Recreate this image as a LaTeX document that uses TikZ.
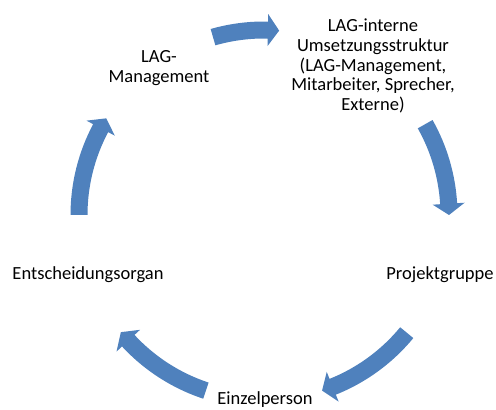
\documentclass[tikz,border=0pt]{standalone}
\usepackage{fontspec}
\setmainfont{Carlito}
\definecolor{cycleblue}{RGB}{79,129,189}
\tikzstyle{item} = [align=center, text centered, inner sep=0pt,
    font=\fontsize{18.5}{19.7}\selectfont]
\tikzstyle{arrowfill} = [fill=cycleblue, draw=none]
% curved block arrow on the ring: #1 tail angle, #2 tip angle
\newcommand{\cycarrow}[2]{%
  \pgfmathsetmacro{\hb}{#2+3.5}%
  \fill[arrowfill] (#1:193.5) arc[start angle=#1, end angle=\hb, radius=193.5]
    -- (\hb:201) -- (#2:185) -- (\hb:169) -- (\hb:176.5)
    arc[start angle=\hb, end angle=#1, radius=176.5] -- cycle;}

\begin{document}
\begin{tikzpicture}[x=1pt, y=1pt]
                \useasboundingbox (0,0) rectangle (496,410);
                \node (mgmt) [item] at (159,342) {LAG-\\Management};
                \node (intern) [item] at (373,344) {LAG-interne\\Umsetzungsstruktur\\(LAG-Management,\\Mitarbeiter, Sprecher,\\Externe)};
                \node (projekt) [item] at (440,135) {Projektgruppe};
                \node (einzel) [item] at (265,10.5) {Einzelperson};
                \node (entsch) [item] at (88,135) {Entscheidungsorgan};
                \begin{scope}[shift={(264,195)}]
                    \foreach \from/\to in {106/85.3, 29.4/0, -39.5/-71.7, -108.3/-140.7, 180/148.5}
                        \cycarrow{\from}{\to};
                \end{scope}
            \end{tikzpicture}
\end{document}
